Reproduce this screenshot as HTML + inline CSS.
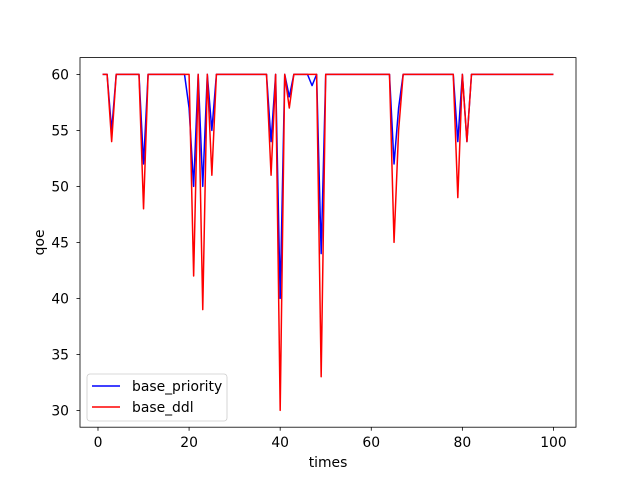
<!DOCTYPE html>
<html><head><meta charset="utf-8"><style>
body{margin:0;background:#fff;}
svg{display:block;font-family:"DejaVu Sans","Liberation Sans",sans-serif;}
</style></head><body>
<svg id="chart" width="640" height="480" viewBox="0 0 640 480"></svg>
<script>
const times = Array.from({length:100},(_,i)=>i+1);
const basePriority = [60,60,55,60,60,60,60,60,60,52,60,60,60,60,60,60,60,60,60,57,50,60,50,60,55,60,60,60,60,60,60,60,60,60,60,60,60,54,60,40,60,58,60,60,60,60,59,60,44,60,60,60,60,60,60,60,60,60,60,60,60,60,60,60,52,57,60,60,60,60,60,60,60,60,60,60,60,60,54,60,54,60,60,60,60,60,60,60,60,60,60,60,60,60,60,60,60,60,60,60];
const baseDdl = [60,60,54,60,60,60,60,60,60,48,60,60,60,60,60,60,60,60,60,60,42,60,39,60,51,60,60,60,60,60,60,60,60,60,60,60,60,51,60,30,60,57,60,60,60,60,60,60,33,60,60,60,60,60,60,60,60,60,60,60,60,60,60,60,45,55,60,60,60,60,60,60,60,60,60,60,60,60,49,60,54,60,60,60,60,60,60,60,60,60,60,60,60,60,60,60,60,60,60,60];
const xTicks = [0,20,40,60,80,100];
const yTicks = [30,35,40,45,50,55,60];

const svg = document.getElementById('chart');
const NS = 'http://www.w3.org/2000/svg';
const L=80,R=576,T=57.6,B=427.2;
const xmin=-3.95,xmax=104.95,ymin=28.5,ymax=61.5;
const FS=13.9;
const X=v=>L+(v-xmin)/(xmax-xmin)*(R-L);
const Y=v=>B-(v-ymin)/(ymax-ymin)*(B-T);
function mk(tag,attrs){const e=document.createElementNS(NS,tag);for(const k in attrs)e.setAttribute(k,attrs[k]);svg.appendChild(e);return e;}

function series(vals,color,name){
  const d=vals.map((v,i)=>(i?'L':'M')+X(times[i]).toFixed(2)+','+Y(v).toFixed(2)).join('');
  const p=mk('path',{d:d,fill:'none',stroke:color,'stroke-width':1.5,'stroke-linejoin':'round'});
  
  
}
series(basePriority,'#0000ff','line-base-priority');
series(baseDdl,'#ff0000','line-base-ddl');

const frame=mk('rect',{x:L,y:T,width:R-L,height:B-T,fill:'none',stroke:'#000','stroke-width':0.8});



xTicks.forEach(t=>{
  mk('line',{x1:X(t),x2:X(t),y1:B,y2:B+3.5,stroke:'#000','stroke-width':0.8});
  const tx=mk('text',{x:X(t),y:B+20,'font-size':FS,'text-anchor':'middle',fill:'#000'});
  tx.textContent=t;
  
  
});
yTicks.forEach(t=>{
  mk('line',{x1:L-3.5,x2:L,y1:Y(t),y2:Y(t),stroke:'#000','stroke-width':0.8});
  const tx=mk('text',{x:L-11,y:Y(t)+5,'font-size':FS,'text-anchor':'end',fill:'#000'});
  tx.textContent=t;
  
  
});
const xt=mk('text',{x:(L+R)/2,y:467,'font-size':FS,'text-anchor':'middle'});xt.textContent='times';


const yt=mk('text',{x:0,y:0,'font-size':FS,'text-anchor':'middle',transform:'translate(44,'+((T+B)/2)+') rotate(-90)'});yt.textContent='qoe';



const lg=mk('rect',{x:87,y:374,width:140,height:47,rx:3,fill:'#fff','fill-opacity':0.8,stroke:'#ccc','stroke-width':0.8});


[['base_priority','#0000ff',391],['base_ddl','#ff0000',412]].forEach(([n,c,y])=>{
  mk('line',{x1:92,x2:120,y1:y-5,y2:y-5,stroke:c,'stroke-width':1.5});
  const t=mk('text',{x:132,y:y,'font-size':FS});t.textContent=n;
  
  
});
</script>
</body></html>
